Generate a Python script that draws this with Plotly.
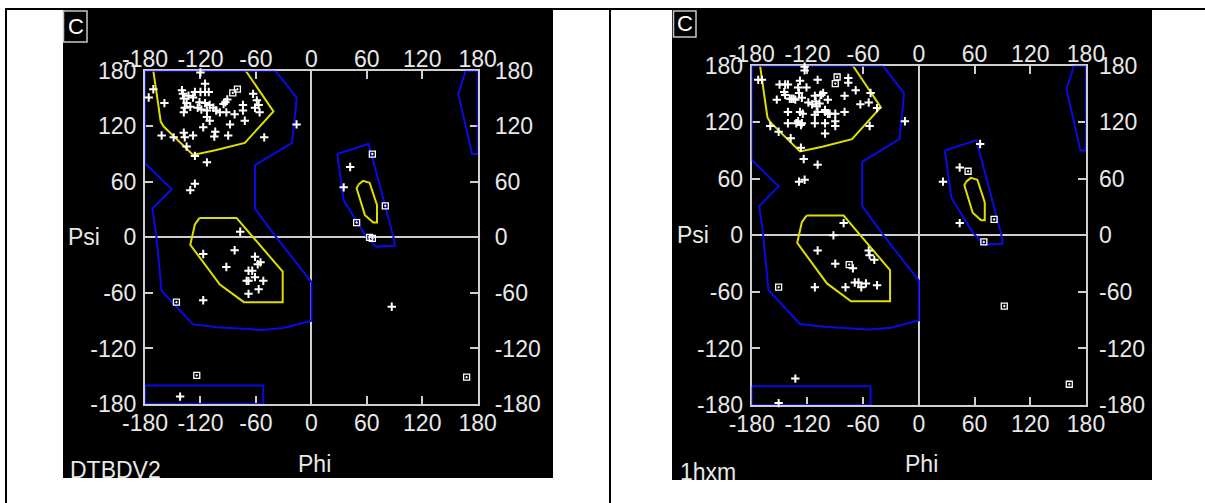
import plotly.graph_objects as go

W, H = 1205, 503

# ---------------- data ----------------
tick_vals = [-180, -120, -60, 0, 60, 120, 180]
tick_text = ["-180", "-120", "-60", "0", "60", "120", "180"]

# allowed (blue) regions
allowed_main_phi = [-180, -39, -16, -17, -21, -61, -61, -38, 0, 0, -30, -54, -102, -128, -162, -168, -172, -151, -180, -180]
allowed_main_psi = [180, 180, 151, 138, 102, 78, 31, 0, -48, -90, -98, -100, -97, -94, -58, 4, 31, 52, 80, 180]
allowed_corner_phi = [167, 159, 174, 180, 180, 167]
allowed_corner_psi = [180, 155, 90, 90, 180, 180]
allowed_bottom_phi = [-180, -52, -52, -180, -180]
allowed_bottom_psi = [-160, -160, -180, -180, -160]
allowed_left_phi = [28, 62, 90, 90, 70, 58, 35, 33, 28]
allowed_left_psi = [90, 101, -4, -9, -10, 3, 40, 55, 90]

# core (yellow) regions
core_beta_phi = [-171, -168, -163, -160, -128, -104, -72, -41, -71]
core_beta_psi = [180, 159, 125, 120, 89, 94, 102, 136, 180]
core_alpha_phi = [-121, -81, -75, -31, -31, -73, -99, -122, -131, -126, -121]
core_alpha_psi = [21, 21, 14, -37, -70, -70, -51, -20, -8, 14, 21]
core_left_phi = [51, 56, 63, 71, 71, 67, 58, 53, 49, 51]
core_left_psi = [57, 61, 59, 35, 16, 16, 24, 41, 53, 57]

# panel 1 (DTBDV2)
p1_cross_phi = [-120, -115, -171, -176, -159, -140, -139, -138, -126, -120, -115, -111, -133, -128, -121, -115,
                -110, -135, -137, -131, -123, -119, -113, -106, -103, -99, -92, -93, -95, -91, -74, -74, -83, -72,
                -63, -59, -57, -61, -56, -138, -113, -110, -117, -88, -104, -105, -90, -162, -138, -137, -128, -149,
                -51, -135, -126, -113, -126, -131, -16,
                -77, -117, -83, -61, -55, -58, -92, -68, -64, -61, -70, -68, -52, -57, -68, -117, -142,
                42, 35, 87]
p1_cross_psi = [178, 166, 160, 151, 145, 159, 155, 150, 157, 157, 157, 157, 153, 151, 146, 145,
                143, 145, 140, 141, 140, 138, 137, 140, 137, 135, 135, 146, 144, 149, 143, 137, 133, 126,
                155, 148, 143, 140, 135, 135, 130, 126, 119, 122, 114, 109, 110, 110, 113, 108, 110, 108,
                108, 98, 88, 81, 58, 51, 122,
                6, -18, -14, -21, -27, -29, -32, -36, -36, -43, -47, -47, -47, -56, -61, -68, -172,
                76, 54, -75]
p1_gly_phi = [-85, -80, -146, -124, 66, 80, 49, 63, 66, 168]
p1_gly_psi = [156, 160, -70, -149, 90, 34, 16, 0, -1, -151]

# panel 2 (1hxm)
p2_cross_phi = [-123, -123, -173, -169, -128, -109, -150, -144, -141, -130, -121, -145, -144, -153, -137, -133,
                -129, -126, -119, -115, -112, -106, -103, -111, -110, -109, -112, -101, -98, -90, -80, -80, -68,
                -63, -54, -52, -45, -141, -130, -126, -141, -101, -90, -90, -53, -160, -151, -138, -101, -127,
                -124, -109, -129, -123, -15, -76, -76, -139, -135, -105, -98, -107, -101, -96, -128, -125, -132,
                -127, -112,
                -81, -92, -109, -54, -53, -48, -90, -71, -69, -65, -62, -57, -45, -79, -112, -133, -151,
                66, 44, 26, 44]
p2_cross_psi = [179, 175, 165, 165, 164, 165, 160, 160, 160, 157, 157, 152, 149, 144, 145, 144,
                151, 146, 141, 139, 148, 149, 151, 142, 137, 131, 128, 131, 129, 129, 148, 131, 154,
                139, 141, 151, 135, 131, 121, 119, 119, 119, 121, 116, 116, 116, 110, 103, 108, 93,
                81, 75, 57, 59, 121, 167, 162, 145, 145, 149, 144, 140, 133, 129, 131, 129, 119,
                117, 119,
                13, 0, -16, -16, -21, -26, -30, -35, -50, -50, -55, -51, -53, -55, -55, -152, -178,
                97, 72, 57, 13]
p2_gly_phi = [-88, -90, -75, -151, 53, 81, 70, 92, 162]
p2_gly_psi = [168, 161, -31, -55, 68, 17, -7, -75, -158]

panel_names = ["DTBDV2", "1hxm"]

# ---------------- styling ----------------
BLUE = "#0a0ae6"
YELLOW = "#dede00"
FRAME = "#cfcfcf"
TEXT = "#e8e8e8"
FONT = "Liberation Sans Narrow, Liberation Sans, Arial, sans-serif"
FS = 23


def fx(px):
    return px / W


def fy(py):
    return 1 - py / H


panels = [
    dict(x0=145, x1=477.7, y0=70.7, y1=404, bg=(63, 553, 10, 478), box=(63, 10, 87, 42),
         cross=(p1_cross_phi, p1_cross_psi), gly=(p1_gly_phi, p1_gly_psi), name=panel_names[0],
         name_x=70, name_y=472, right_stand=16),
    dict(x0=751.7, x1=1086, y0=65.7, y1=405, bg=(672, 1152, 10, 480), box=(673, 10, 696, 37),
         cross=(p2_cross_phi, p2_cross_psi), gly=(p2_gly_phi, p2_gly_psi), name=panel_names[1],
         name_x=680, name_y=474, right_stand=12),
]

fig = go.Figure()
layout = dict(width=W, height=H,
              margin=dict(l=0, r=0, t=0, b=0, pad=0, autoexpand=False),
              paper_bgcolor="white", plot_bgcolor="rgba(0,0,0,0)", showlegend=False, hovermode=False)
shapes = []
annotations = []

regions = [
    (core_beta_phi, core_beta_psi, YELLOW),
    (core_alpha_phi, core_alpha_psi, YELLOW),
    (core_left_phi, core_left_psi, YELLOW),
    (allowed_main_phi, allowed_main_psi, BLUE),
    (allowed_corner_phi, allowed_corner_psi, BLUE),
    (allowed_bottom_phi, allowed_bottom_psi, BLUE),
    (allowed_left_phi, allowed_left_psi, BLUE),
]

for i, p in enumerate(panels):
    k = i + 1
    xm, ym = ("x", "y") if k == 1 else ("x2", "y2")
    xl, yl = f"x{k + 2}", f"y{k + 2}"
    xb, yb = f"x{k + 4}", f"y{k + 4}"
    xm_l = "xaxis" if k == 1 else "xaxis2"
    ym_l = "yaxis" if k == 1 else "yaxis2"

    tickfont = dict(family=FONT, size=FS, color=TEXT)
    common = dict(range=[-180, 180], tickvals=tick_vals, ticktext=tick_text, showgrid=False,
                  fixedrange=True, tickfont=tickfont)
    xdom = [fx(p["x0"]), fx(p["x1"])]
    ydom = [fy(p["y1"]), fy(p["y0"])]
    bx0, bx1, by0, by1 = p["bg"]

    # black panel
    shapes.append(dict(type="rect", xref="paper", yref="paper", x0=fx(bx0), x1=fx(bx1),
                       y0=fy(by1), y1=fy(by0), fillcolor="black", line=dict(width=0), layer="below"))

    # text-clipping subplot covering the black panel
    layout[f"xaxis{k + 4}"] = dict(domain=[fx(bx0), fx(bx1)], range=[0, 1], visible=False,
                                   anchor=yb, fixedrange=True)
    layout[f"yaxis{k + 4}"] = dict(domain=[fy(by1), fy(by0)], range=[0, 1], visible=False,
                                   anchor=xb, fixedrange=True)
    # main axes: frame, inside ticks on all sides, bottom/left labels
    layout[xm_l] = dict(domain=xdom, anchor=ym, ticks="inside", ticklen=8,
                        tickwidth=2, tickcolor=FRAME, showline=True, linecolor=FRAME, linewidth=2,
                        mirror="ticks", zeroline=True, zerolinecolor=FRAME, zerolinewidth=2,
                        ticklabelstandoff=-3, layer="below traces", **common)
    layout[ym_l] = dict(domain=ydom, anchor=xm, ticks="inside", ticklen=8,
                        tickwidth=2, tickcolor=FRAME, showline=True, linecolor=FRAME, linewidth=2,
                        mirror="ticks", zeroline=True, zerolinecolor=FRAME, zerolinewidth=2,
                        ticklabelstandoff=2, layer="below traces", **common)
    # label axes: top / right labels
    layout[f"xaxis{k + 2}"] = dict(domain=xdom, anchor=yl, side="top", ticks="", showline=False,
                                   zeroline=False, ticklabelstandoff=-2, **common)
    layout[f"yaxis{k + 2}"] = dict(domain=ydom, anchor=xl, side="right", ticks="", showline=False,
                                   zeroline=False, ticklabelstandoff=p["right_stand"], **common)

    fig.add_trace(go.Scatter(x=[(p["name_x"] - bx0) / (bx1 - bx0)],
                             y=[(by1 - p["name_y"]) / (by1 - by0)],
                             mode="text", text=[p["name"]], textposition="middle right",
                             textfont=dict(family=FONT, size=FS, color=TEXT), cliponaxis=True,
                             xaxis=xb, yaxis=yb, hoverinfo="skip"))
    fig.add_trace(go.Scatter(x=[None], y=[None], xaxis=xl, yaxis=yl, hoverinfo="skip"))

    for rphi, rpsi, col in regions:
        fig.add_trace(go.Scatter(x=rphi, y=rpsi, mode="lines", line=dict(color=col, width=2),
                                 xaxis=xm, yaxis=ym, hoverinfo="skip"))
    cphi, cpsi = p["cross"]
    fig.add_trace(go.Scatter(x=cphi, y=cpsi, mode="markers", xaxis=xm, yaxis=ym, cliponaxis=False,
                             marker=dict(symbol="cross-thin", size=6, color="white",
                                         line=dict(color="white", width=2)), hoverinfo="skip"))
    gphi, gpsi = p["gly"]
    fig.add_trace(go.Scatter(x=gphi, y=gpsi, mode="markers", xaxis=xm, yaxis=ym, cliponaxis=False,
                             marker=dict(symbol="square-open-dot", size=6, color="white",
                                         line=dict(color="white", width=1.3)), hoverinfo="skip"))

    # C box
    c0, c1, c2, c3 = p["box"]
    shapes.append(dict(type="rect", xref="paper", yref="paper", x0=fx(c0 + 0.5), x1=fx(c2),
                       y0=fy(c3), y1=fy(c1 + 1), line=dict(color="#c8c8c8", width=1.5), layer="above"))
    annotations.append(dict(text="C", x=fx((c0 + c2) / 2 + 0.5), y=fy((c1 + c3) / 2 + 0.5),
                            xref="paper", yref="paper", showarrow=False, xanchor="center",
                            yanchor="middle", font=dict(family=FONT, size=22, color="white")))
    # Psi / Phi labels
    annotations.append(dict(text="Psi", x=fx(bx0 + 3), y=fy((p["y0"] + p["y1"]) / 2), xref="paper",
                            yref="paper", showarrow=False, xanchor="left", yanchor="middle",
                            font=dict(family=FONT, size=FS, color=TEXT)))
    annotations.append(dict(text="Phi", x=fx((p["x0"] + p["x1"]) / 2 + 3), y=fy(464), xref="paper",
                            yref="paper", showarrow=False, xanchor="center", yanchor="middle",
                            font=dict(family=FONT, size=FS, color=TEXT)))

# table borders
shapes.append(dict(type="line", xref="paper", yref="paper", x0=fx(5), x1=1, y0=fy(9), y1=fy(9),
                   line=dict(color="black", width=2), layer="above"))
shapes.append(dict(type="line", xref="paper", yref="paper", x0=fx(6), x1=fx(6), y0=0, y1=fy(8),
                   line=dict(color="black", width=2), layer="above"))
shapes.append(dict(type="line", xref="paper", yref="paper", x0=fx(610), x1=fx(610), y0=0, y1=fy(8),
                   line=dict(color="black", width=2), layer="above"))

layout["shapes"] = shapes
layout["annotations"] = annotations
fig.update_layout(**layout)
fig.write_html("out.html")
